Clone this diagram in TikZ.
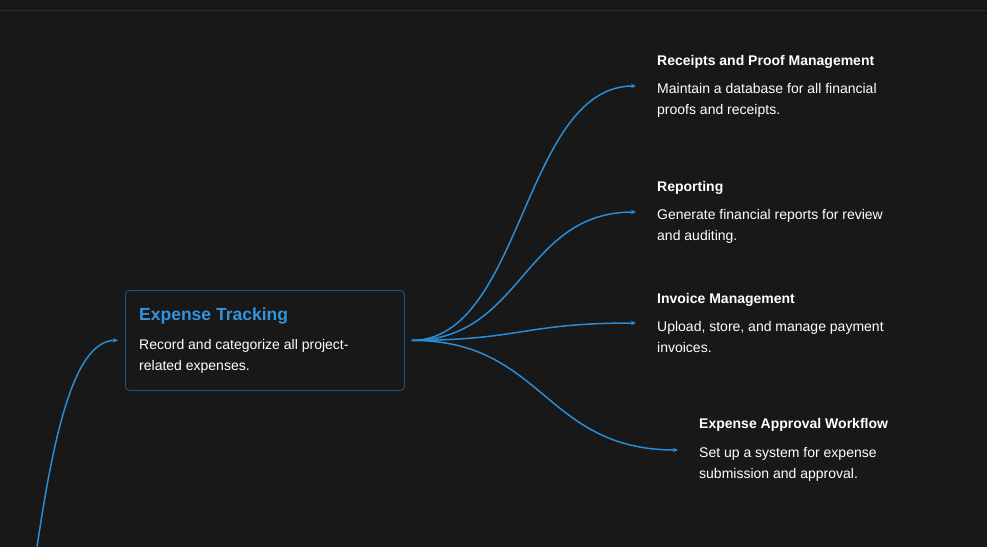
\documentclass[tikz,border=0pt]{standalone}
\usepackage{fontspec}
\setmainfont{Liberation Sans}
\usetikzlibrary{arrows.meta}
\definecolor{bg}{HTML}{181818}
\definecolor{rulegray}{HTML}{2C2C2C}
\definecolor{linkblue}{HTML}{2B8CD6}
\definecolor{boxblue}{HTML}{1F5580}
\definecolor{titleblue}{HTML}{3393DC}
\begin{document}
\begin{tikzpicture}[x=1pt, y=-1pt,
    head/.style={anchor=west, inner sep=0pt, text=white,
      font=\fontsize{14}{17}\selectfont\bfseries},
    desc/.style={anchor=north west, inner sep=0pt, text=white, align=left,
      font=\fontsize{14}{21}\selectfont},
    link/.style={draw=linkblue, line width=1.5pt,
      -{Stealth[length=5pt,width=4.5pt]}}]
    \fill[bg] (0,0) rectangle (987,547);
    \useasboundingbox (0,0) rectangle (987,547);
    \draw[rulegray] (0,10.5) -- (987,10.5);

    % central topic
    \node [draw=boxblue, line width=0.8pt, rounded corners=4pt, anchor=north west,
      minimum width=279pt, minimum height=100pt] (track) at (125,290) {};
    \node [head, text=titleblue, font=\fontsize{17.5}{20}\selectfont\bfseries]
      (track-h) at (139,316) {Expense Tracking};
    \node [desc] (track-d) at (139,339) {Record and categorize all project-\\related expenses.};
    \coordinate (hub) at ([xshift=7pt]track.east);

    % sub topics
    \node [head] (rec-h) at (657,62) {Receipts and Proof Management};
    \node [desc] (rec-d) at (657,83) {Maintain a database for all financial\\proofs and receipts.};
    \node [head] (rep-h) at (657,188) {Reporting};
    \node [desc] (rep-d) at (657,209) {Generate financial reports for review\\and auditing.};
    \node [head] (inv-h) at (657,300) {Invoice Management};
    \node [desc] (inv-d) at (657,321) {Upload, store, and manage payment\\invoices.};
    \node [head] (app-h) at (699,425) {Expense Approval Workflow};
    \node [desc] (app-d) at (699,447) {Set up a system for expense\\submission and approval.};

    \coordinate (rec-in) at ([xshift=-21pt, yshift=-3pt]rec-d.north west);
    \coordinate (rep-in) at ([xshift=-21pt, yshift=-3pt]rep-d.north west);
    \coordinate (inv-in) at ([xshift=-21pt, yshift=-2pt]inv-d.north west);
    \coordinate (app-in) at ([xshift=-21pt, yshift=-3pt]app-d.north west);
    \coordinate (track-in) at ([xshift=-7pt]track.west);
    \coordinate (root-out) at (37,547);

    \draw [link] (hub) .. controls (523,340) and (523,86) .. (rec-in);
    \draw [link] (hub) .. controls (523,340) and (523,212) .. (rep-in);
    \draw [link] (hub) .. controls (523,340) and (523,323) .. (inv-in);
    \draw [link] (hub) .. controls (544,340) and (544,450) .. (app-in);
    \draw [link] (root-out) .. controls (52,447) and (72,340) .. (track-in);
  \end{tikzpicture}
\end{document}
